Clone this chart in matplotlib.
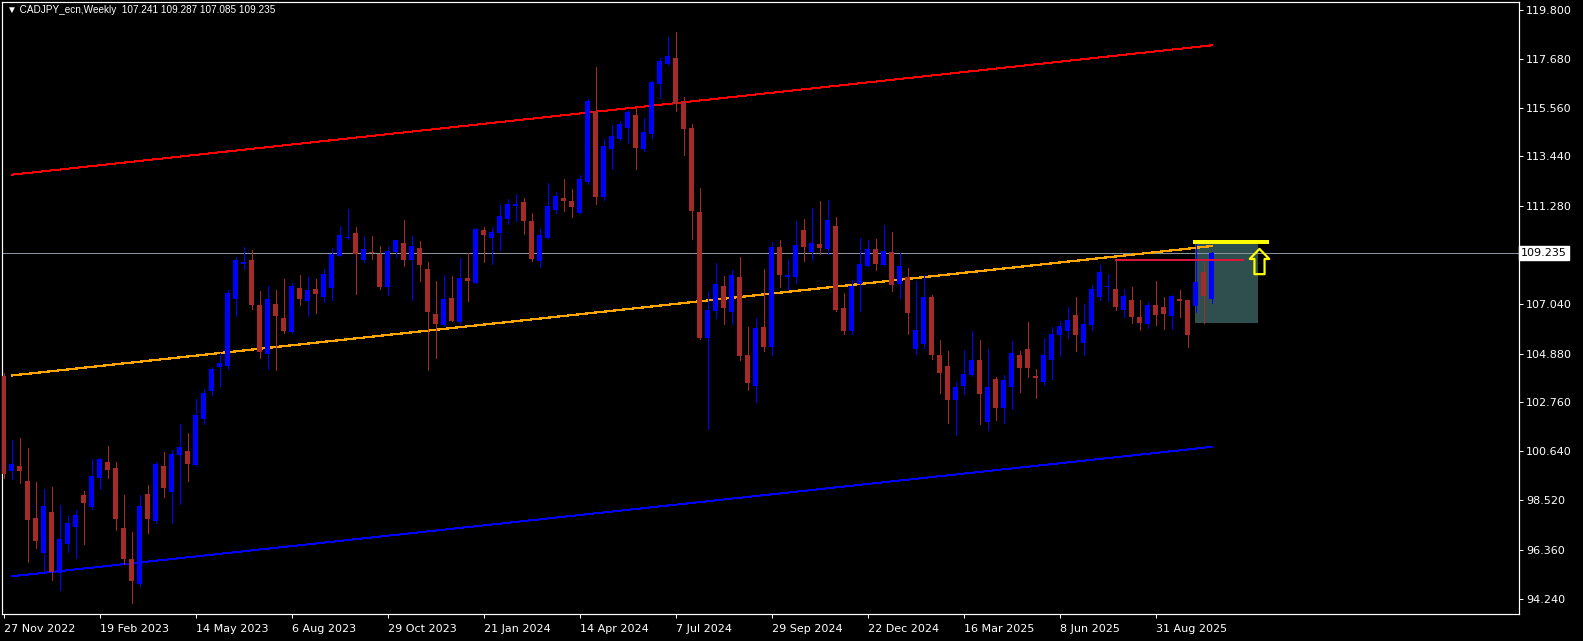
import numpy as np
import matplotlib
matplotlib.use("Agg")
import matplotlib.pyplot as plt
from matplotlib.path import Path
from matplotlib.transforms import blended_transform_factory

# ---------------- data ----------------
symbol_title = "CADJPY_ecn,Weekly  107.241 109.287 107.085 109.235"

opens = [103.91, 99.78, 99.99, 99.34, 97.74, 96.22, 98.00, 95.35, 96.61, 97.35,
         98.74, 98.21, 99.47, 100.17, 99.91, 97.30, 95.96, 94.87, 98.78, 97.61,
         99.99, 98.87, 100.47, 100.65, 100.04, 102.04, 103.27, 104.30, 104.34, 107.25,
         108.78, 108.94, 106.99, 104.86, 107.03, 106.42, 105.82, 107.73, 107.16, 107.685,
         107.34, 107.73, 109.12, 109.90, 110.12, 108.94, 109.25, 109.20, 107.77, 109.29,
         109.68, 108.94, 109.47, 108.55, 106.60, 106.12, 107.29, 106.25, 108.16, 107.94,
         110.25, 109.90, 110.12, 110.73, 111.29, 111.46, 110.64, 108.90, 109.90, 111.12,
         111.64, 111.51, 110.99, 112.33, 115.42, 111.68, 113.77, 114.20, 114.68, 115.24,
         113.77, 114.42, 116.59, 117.46, 117.72, 115.81, 114.68, 111.03, 105.55, 106.73,
         107.81, 106.68, 108.21, 104.82, 103.47, 106.03, 105.16, 109.51, 108.21, 108.21,
         110.25, 109.29, 109.64, 109.42, 110.42, 106.86, 105.86, 107.90, 108.685, 109.42,
         108.73, 109.29, 107.90, 108.21, 105.08, 105.29, 107.34, 104.82, 104.34, 102.86,
         103.47, 103.95, 104.60, 101.91, 103.77, 102.53, 103.43, 104.82, 105.08, 103.905,
         103.64, 104.60, 105.69, 105.86, 106.55, 105.34, 106.12, 107.34, 107.77, 107.68,
         106.77, 107.21, 106.47, 106.16, 106.99, 106.90, 106.51, 107.25, 107.21, 106.945,
         108.41, 107.241]
highs = [104.02, 101.12, 101.21, 100.78, 99.30, 99.00, 99.08, 98.30, 97.82, 98.08,
         98.91, 100.30, 100.35, 100.86, 100.17, 98.74, 97.13, 98.74, 99.17, 100.17,
         100.60, 100.69, 101.82, 101.43, 102.91, 103.34, 104.30, 104.89, 107.64, 109.07,
         109.51, 109.38, 107.60, 107.81, 107.64, 108.12, 107.94, 108.29, 108.20, 108.12,
         108.55, 109.47, 110.42, 111.16, 110.38, 109.94, 109.985, 109.55, 109.55, 109.81,
         110.68, 109.99, 109.77, 108.86, 108.03, 108.29, 108.25, 109.03, 109.25, 110.33,
         110.38, 110.38, 111.33, 111.59, 111.81, 111.64, 110.99, 110.29, 112.29, 111.90,
         112.46, 112.03, 112.64, 115.94, 117.33, 114.20, 114.81, 114.98, 115.46, 115.55,
         115.11, 116.72, 117.72, 118.63, 118.85, 116.03, 114.85, 112.07, 107.60, 108.81,
         108.25, 108.51, 109.07, 106.03, 106.42, 108.55, 109.73, 109.81, 108.99, 110.64,
         110.73, 111.20, 111.51, 111.55, 110.81, 107.51, 108.08, 109.90, 109.81, 109.86,
         110.46, 110.16, 109.25, 108.60, 108.03, 108.29, 107.42, 105.47, 104.99, 103.64,
         105.03, 105.86, 105.47, 105.08, 103.86, 103.95, 105.43, 104.99, 106.25, 104.21,
         105.55, 106.03, 106.29, 106.90, 107.34, 107.03, 107.86, 108.73, 108.34, 108.94,
         107.68, 107.77, 107.21, 107.12, 108.03, 107.34, 107.42, 107.64, 107.21, 109.74,
         108.84, 109.287]
lows = [99.46, 99.43, 99.27, 95.83, 96.43, 95.39, 95.04, 94.61, 96.26, 96.00,
        96.61, 98.15, 99.00, 99.47, 97.22, 95.74, 94.04, 94.80, 97.09, 97.52,
        98.65, 97.52, 98.35, 99.34, 100.00, 101.82, 103.10, 103.47, 104.21, 106.51,
        108.55, 106.82, 104.69, 104.21, 104.17, 105.77, 105.77, 106.99, 106.51, 106.64,
        107.12, 107.21, 109.10, 109.86, 107.47, 108.86, 108.99, 107.685, 107.42, 109.075,
        108.685, 107.21, 108.03, 104.17, 104.69, 106.08, 106.29, 106.16, 107.16, 107.94,
        108.86, 108.77, 109.38, 110.51, 110.64, 110.07, 108.90, 108.64, 109.90, 110.99,
        111.07, 110.81, 110.99, 112.25, 111.38, 111.55, 112.90, 114.16, 114.03, 112.90,
        113.68, 114.25, 115.98, 117.42, 115.42, 113.51, 109.86, 105.51, 101.60, 106.42,
        106.16, 106.16, 104.60, 103.30, 102.78, 104.99, 104.82, 107.77, 107.64, 107.94,
        108.90, 108.94, 109.205, 109.205, 106.73, 105.73, 105.73, 106.73, 108.685, 108.51,
        108.685, 107.60, 107.29, 105.73, 104.86, 105.12, 104.64, 103.17, 101.86, 101.34,
        103.12, 103.90, 101.82, 101.56, 101.99, 101.85, 102.47, 103.21, 103.86, 102.95,
        103.51, 103.77, 104.77, 105.56, 104.99, 104.82, 105.90, 107.21, 107.16, 106.77,
        106.47, 106.21, 105.90, 105.99, 106.12, 105.95, 105.945, 106.47, 105.16, 106.70,
        106.22, 107.085]
closes = [99.65, 100.08, 99.78, 97.65, 96.74, 98.26, 95.39, 96.82, 97.52, 97.87,
          98.39, 99.56, 100.30, 99.82, 97.69, 95.96, 95.00, 98.26, 97.69, 100.08,
          99.04, 100.52, 100.82, 100.08, 102.21, 103.17, 104.21, 104.47, 107.51, 108.94,
          108.86, 106.99, 104.95, 107.25, 106.51, 105.86, 107.81, 107.25, 107.64, 107.47,
          108.34, 109.20, 110.03, 109.96, 109.21, 109.42, 109.24, 107.77, 109.335, 109.81,
          108.94, 109.55, 108.73, 106.69, 106.16, 107.25, 106.29, 108.16, 108.03, 110.29,
          110.03, 110.16, 110.86, 111.38, 111.38, 110.64, 108.99, 110.03, 111.29, 111.725,
          111.51, 111.25, 112.46, 115.85, 111.68, 113.90, 114.33, 114.85, 115.37, 113.81,
          114.51, 116.68, 117.59, 117.81, 115.72, 114.63, 111.07, 105.55, 106.77, 107.90,
          106.86, 108.29, 104.77, 103.60, 105.99, 105.16, 109.51, 108.29, 108.29, 109.59,
          109.51, 109.68, 109.47, 110.68, 106.77, 105.86, 107.81, 108.77, 109.42, 108.77,
          109.335, 107.86, 108.685, 106.64, 105.90, 107.34, 104.82, 104.04, 102.86, 103.43,
          103.99, 104.60, 103.12, 103.43, 102.51, 103.73, 104.90, 104.25, 104.25, 103.82,
          104.82, 105.73, 106.08, 106.34, 105.69, 106.16, 107.68, 108.42, 107.81, 106.90,
          107.38, 106.47, 106.21, 106.99, 106.55, 106.60, 107.38, 107.16, 105.69, 107.975,
          107.39, 109.235]

date_labels = ["27 Nov 2022", "19 Feb 2023", "14 May 2023", "6 Aug 2023", "29 Oct 2023",
               "21 Jan 2024", "14 Apr 2024", "7 Jul 2024", "29 Sep 2024", "22 Dec 2024",
               "16 Mar 2025", "8 Jun 2025", "31 Aug 2025"]
weeks_per_label = 12

price_ticks = [119.800, 117.680, 115.560, 113.440, 111.280, 107.040, 104.880,
               102.760, 100.640, 98.520, 96.360, 94.240]
last_price = 109.235

# regression channel (bar index, mid value) and half-width
channel_bars = [1, 151]
channel_mid = [103.93, 109.55]
channel_dev = 8.72

# drawn objects
level_bars = [139, 154.9]
level_price = 108.94
box_bars = [148.85, 156.75]
box_prices = [106.22, 109.74]
box_top_line_bars = [148.9, 157.9]
arrow_bar = 156.9
arrow_price = 108.92

# ---------------- style ----------------
BG = "black"
FG = "white"
UP = "#0000ff"
DN = "#a52a2a"

W, H = 1583, 641
fig = plt.figure(figsize=(W / 100, H / 100), dpi=100, facecolor=BG)
ax = fig.add_axes([2 / W, 27 / H, 1517 / W, 612 / H], facecolor=BG)

n = len(opens)
x = np.arange(n)
o = np.array(opens); c = np.array(closes); hi = np.array(highs); lo = np.array(lows)
up = c >= o
cols = np.where(up, UP, DN)
px = 0.72  # one pixel in points

# channel
cx = np.array(channel_bars, dtype=float)
cm = np.array(channel_mid)
ax.plot(cx, cm + channel_dev, color="#ff0000", lw=px, zorder=2, antialiased=False)
ax.plot(cx, cm, color="#ffa500", lw=px * 1.2, zorder=2, antialiased=False)
ax.plot(cx, cm - channel_dev, color="#0000ff", lw=px, zorder=2, antialiased=False)

# rectangle object
ax.fill_between(box_bars, box_prices[0], box_prices[1], color="#2f4f4f", lw=0, zorder=0.5)

# current price line
ax.axhline(last_price, color="#8a94a0", lw=px, zorder=1, antialiased=False)

# candles
ax.vlines(x, lo, hi, colors=cols, lw=px, zorder=3, antialiased=False)
body_h = np.maximum(np.abs(c - o), 0.045)
ax.bar(x, body_h, bottom=np.minimum(o, c), width=0.625, color=cols, lw=0,
       zorder=3.1, antialiased=False)

# horizontal level and box top line
ax.plot(level_bars, [level_price, level_price], color="#dc143c", lw=px * 2, zorder=4,
        antialiased=False)
ax.plot(box_top_line_bars, [box_prices[1], box_prices[1]], color="#ffff00", lw=px * 2.2,
        zorder=4, antialiased=False)

# up-arrow outline marker
verts = [(0, 1), (0.77, 0.2), (0.4, 0.2), (0.4, -1), (-0.4, -1), (-0.4, 0.2),
         (-0.77, 0.2), (0, 1)]
arrow_path = Path(verts, [Path.MOVETO] + [Path.LINETO] * 6 + [Path.CLOSEPOLY])
ax.plot([arrow_bar], [arrow_price], marker=arrow_path, markersize=18.2,
        markerfacecolor="none", markeredgecolor="#ffff00", markeredgewidth=1.6,
        linestyle="none", zorder=5)

# axes limits & frame
ax.set_xlim(-0.25, 189.375)
ax.set_ylim(93.57, 120.15)
for s in ax.spines.values():
    s.set_color(FG)
    s.set_linewidth(px * 1.2)

ax.yaxis.tick_right()
ax.set_yticks(price_ticks)
ax.set_yticklabels([f"{p:.3f}" for p in price_ticks])
ax.tick_params(axis="y", colors=FG, labelcolor=FG, labelsize=8, length=3,
               width=px, direction="out", pad=2)

xt = np.arange(len(date_labels)) * weeks_per_label
ax.set_xticks(xt)
ax.set_xticklabels(date_labels)
ax.tick_params(axis="x", colors=FG, labelcolor=FG, labelsize=8, length=3,
               width=px, direction="out", pad=4)
for lbl in ax.get_xticklabels():
    lbl.set_horizontalalignment("left")

# last price label
tr = blended_transform_factory(ax.transAxes, ax.transData)
ax.text(1.0015, last_price, f"{last_price:.3f}", transform=tr, ha="left", va="center",
        fontsize=8, color="black", zorder=10, clip_on=False,
        bbox=dict(boxstyle="square,pad=0.18", facecolor="white", edgecolor="white"))

# header
fig.text(7 / W, 1 - 10 / H, "\u25bc " + symbol_title, color=FG, fontsize=7.2,
         family=["Liberation Sans", "DejaVu Sans"], ha="left", va="center")

fig.savefig("out.png", dpi=100, facecolor=BG)
